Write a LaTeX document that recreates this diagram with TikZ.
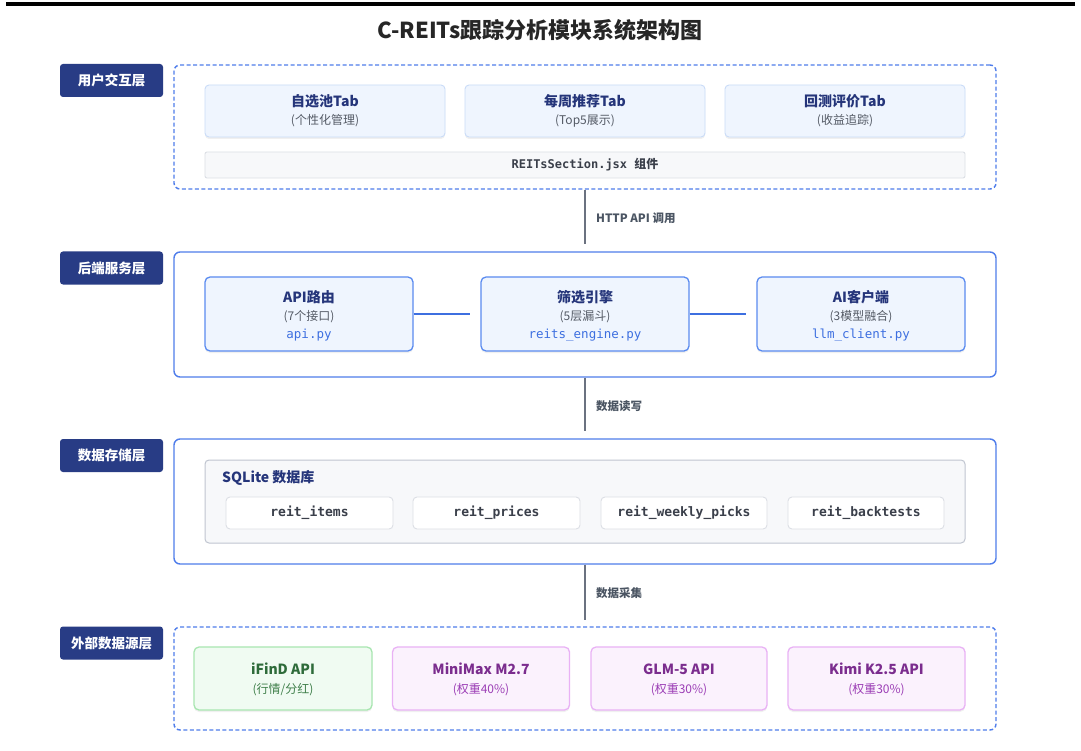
\documentclass[tikz,border=0pt]{standalone}
\usepackage{fontspec}
\setmainfont{Noto Sans CJK SC}
\setmonofont{DejaVu Sans Mono}
\newfontfamily\cjk{Noto Sans CJK SC}
\usetikzlibrary{shadows}
\definecolor{navy}{HTML}{283C85}
\definecolor{contblue}{HTML}{4F7DEB}
\definecolor{tabfill}{HTML}{EFF5FE}
\definecolor{tabborder}{HTML}{CADCF8}
\definecolor{svcborder}{HTML}{5A8BF0}
\definecolor{titlenavy}{HTML}{25357A}
\definecolor{subgray}{HTML}{555B66}
\definecolor{codeblue}{HTML}{3D6FE0}
\definecolor{barfill}{HTML}{F7F8FA}
\definecolor{barborder}{HTML}{DCDFE5}
\definecolor{dbborder}{HTML}{C0C5D0}
\definecolor{codedark}{HTML}{3A3F4A}
\definecolor{conngray}{HTML}{6B7280}
\definecolor{labgray}{HTML}{4B5563}
\definecolor{greenfill}{HTML}{F0FBF2}
\definecolor{greenborder}{HTML}{A8E6B0}
\definecolor{greentitle}{HTML}{2E6B3A}
\definecolor{greensub}{HTML}{3F7F4A}
\definecolor{purpfill}{HTML}{FBF2FD}
\definecolor{purpborder}{HTML}{E9B2F5}
\definecolor{purptitle}{HTML}{7B2D8E}
\definecolor{purpsub}{HTML}{9B3DB5}
\begin{document}
\begin{tikzpicture}[x=1pt,y=-1pt,
  layerlabel/.style={fill=navy, rounded corners=3pt, minimum width=103pt, minimum height=33pt, inner sep=0pt, text=white, font=\fontsize{13.5}{15}\selectfont\bfseries},
  contdash/.style={draw=contblue, line width=1.4pt, dash pattern=on 4pt off 2.5pt, rounded corners=6pt, minimum width=822pt, inner sep=0pt},
  contsolid/.style={draw=contblue, line width=1.4pt, rounded corners=6pt, minimum width=822pt, inner sep=0pt},
  softshadow/.style={drop shadow={shadow xshift=0pt, shadow yshift=-2pt, opacity=0.06, fill=black}},
  tabbox/.style={fill=tabfill, draw=tabborder, line width=0.9pt, rounded corners=4pt, minimum width=240pt, minimum height=52pt, inner sep=0pt, softshadow},
  barbox/.style={fill=barfill, draw=barborder, line width=0.9pt, rounded corners=2pt, minimum width=760pt, minimum height=26pt, inner sep=0pt},
  svcbox/.style={fill=tabfill, draw=svcborder, line width=1.3pt, rounded corners=5pt, minimum width=208pt, minimum height=74pt, inner sep=0pt, softshadow},
  dbbox/.style={fill=barfill, draw=dbborder, line width=1pt, rounded corners=4pt, minimum width=760pt, minimum height=83pt, inner sep=0pt},
  tblbox/.style={fill=white, draw=barborder, line width=0.9pt, rounded corners=4pt, minimum height=32pt, inner sep=0pt},
  greenbox/.style={fill=greenfill, draw=greenborder, line width=1.3pt, rounded corners=5pt, minimum height=63pt, inner sep=0pt, softshadow},
  purpbox/.style={fill=purpfill, draw=purpborder, line width=1.3pt, rounded corners=5pt, minimum height=63pt, inner sep=0pt, softshadow},
  boxtitle/.style={inner sep=0pt, text=titlenavy, font=\fontsize{14}{16}\selectfont\bfseries},
  boxsub/.style={inner sep=0pt, text=subgray, font=\fontsize{12}{14}\selectfont},
  codetxt/.style={inner sep=0pt, text=codeblue, font=\fontsize{12.5}{14}\selectfont\ttfamily},
  tbltxt/.style={inner sep=0pt, text=codedark, font=\fontsize{13}{15}\selectfont\ttfamily\bfseries},
  vconn/.style={draw=conngray, line width=2pt},
  hconn/.style={draw=codeblue, line width=2pt},
  connlabel/.style={inner sep=0pt, anchor=west, text=labgray, font=\fontsize{11.5}{13}\selectfont\bfseries}
]
\useasboundingbox[fill=white] (0,0) rectangle (1081,751);
\fill[black] (6,2.5) rectangle (1075,6.5);
\node[inner sep=0pt, text=black!85, font=\fontsize{22}{24}\selectfont\bfseries] (title) at (540,30) {C-REITs跟踪分析模块系统架构图};

% Layer labels
\node[layerlabel] (lab1) at (111.5,80.5) {用户交互层};
\node[layerlabel] (lab2) at (111.5,268) {后端服务层};
\node[layerlabel] (lab3) at (111.5,455.5) {数据存储层};
\node[layerlabel] (lab4) at (111.5,643) {外部数据源层};

% Containers
\node[contdash, minimum height=124pt] (L1) at (585,127) {};
\node[contsolid, minimum height=125pt] (L2) at (585,314.5) {};
\node[contsolid, minimum height=125pt] (L3) at (585,501.5) {};
\node[contdash, minimum height=103pt] (L4) at (585,678.5) {};

% Layer 1
\node[tabbox] (tab1) at (325,111) {};
\node[tabbox] (tab2) at (585,111) {};
\node[tabbox] (tab3) at (845,111) {};
\node[boxtitle] (tab1t) at (325,101) {自选池Tab};
\node[boxsub] (tab1s) at (325,121) {(个性化管理)};
\node[boxtitle] (tab2t) at (585,101) {每周推荐Tab};
\node[boxsub] (tab2s) at (585,121) {(Top5展示)};
\node[boxtitle] (tab3t) at (845,101) {回测评价Tab};
\node[boxsub] (tab3s) at (845,121) {(收益追踪)};
\node[barbox] (bar) at (585,165) {};
\node[inner sep=0pt, text=codedark] (bart) at (585,165) {\fontsize{12}{14}\selectfont\ttfamily\bfseries REITsSection.jsx {\cjk 组件}};

% Layer 2
\node[svcbox] (api) at (309,314) {};
\node[svcbox] (eng) at (585,314) {};
\node[svcbox] (llm) at (861,314) {};
\node[boxtitle] (apit) at (309,297) {API路由};
\node[boxsub] (apis) at (309,317) {(7个接口)};
\node[codetxt] (apic) at (309,335) {api.py};
\node[boxtitle] (engt) at (585,297) {筛选引擎};
\node[boxsub] (engs) at (585,317) {(5层漏斗)};
\node[codetxt] (engc) at (585,335) {reits\_engine.py};
\node[boxtitle] (llmt) at (861,297) {AI客户端};
\node[boxsub] (llms) at (861,317) {(3模型融合)};
\node[codetxt] (llmc) at (861,335) {llm\_client.py};
\draw[hconn] (api.east) -- ([xshift=-10pt]eng.west);
\draw[hconn] (eng.east) -- ([xshift=-10pt]llm.west);

% Layer 3
\node[dbbox] (db) at (585,501.5) {};
\node[boxtitle, anchor=west] (dbt) at (222,478) {SQLite 数据库};
\node[tblbox, minimum width=167pt] (t1) at (309.5,513) {};
\node[tblbox, minimum width=167pt] (t2) at (496.5,513) {};
\node[tblbox, minimum width=166pt] (t3) at (684,513) {};
\node[tblbox, minimum width=156pt] (t4) at (866,513) {};
\node[tbltxt] (t1t) at (309.5,513) {reit\_items};
\node[tbltxt] (t2t) at (496.5,513) {reit\_prices};
\node[tbltxt] (t3t) at (684,513) {reit\_weekly\_picks};
\node[tbltxt] (t4t) at (866,513) {reit\_backtests};

% Layer 4
\node[greenbox, minimum width=178pt] (ifind) at (283,678.5) {};
\node[purpbox, minimum width=177pt] (mini) at (481,678.5) {};
\node[purpbox, minimum width=176pt] (glm) at (679,678.5) {};
\node[purpbox, minimum width=177pt] (kimi) at (876.5,678.5) {};
\node[boxtitle, text=greentitle] (ifindt) at (283,669) {iFinD API};
\node[boxsub, text=greensub] (ifinds) at (283,690) {(行情/分红)};
\node[boxtitle, text=purptitle] (minit) at (481,669) {MiniMax M2.7};
\node[boxsub, text=purpsub] (minis) at (481,690) {(权重40\%)};
\node[boxtitle, text=purptitle] (glmt) at (679,669) {GLM-5 API};
\node[boxsub, text=purpsub] (glms) at (679,690) {(权重30\%)};
\node[boxtitle, text=purptitle] (kimit) at (876.5,669) {Kimi K2.5 API};
\node[boxsub, text=purpsub] (kimis) at (876.5,690) {(权重30\%)};

% Vertical connectors
\draw[vconn] (L1.south) -- ([yshift=7pt]L2.north);
\draw[vconn] (L2.south) -- ([yshift=7pt]L3.north);
\draw[vconn] (L3.south) -- ([yshift=6pt]L4.north);
\node[connlabel] (c1) at (596,218) {HTTP API 调用};
\node[connlabel] (c2) at (596,406) {数据读写};
\node[connlabel] (c3) at (596,593) {数据采集};
\end{tikzpicture}
\end{document}
